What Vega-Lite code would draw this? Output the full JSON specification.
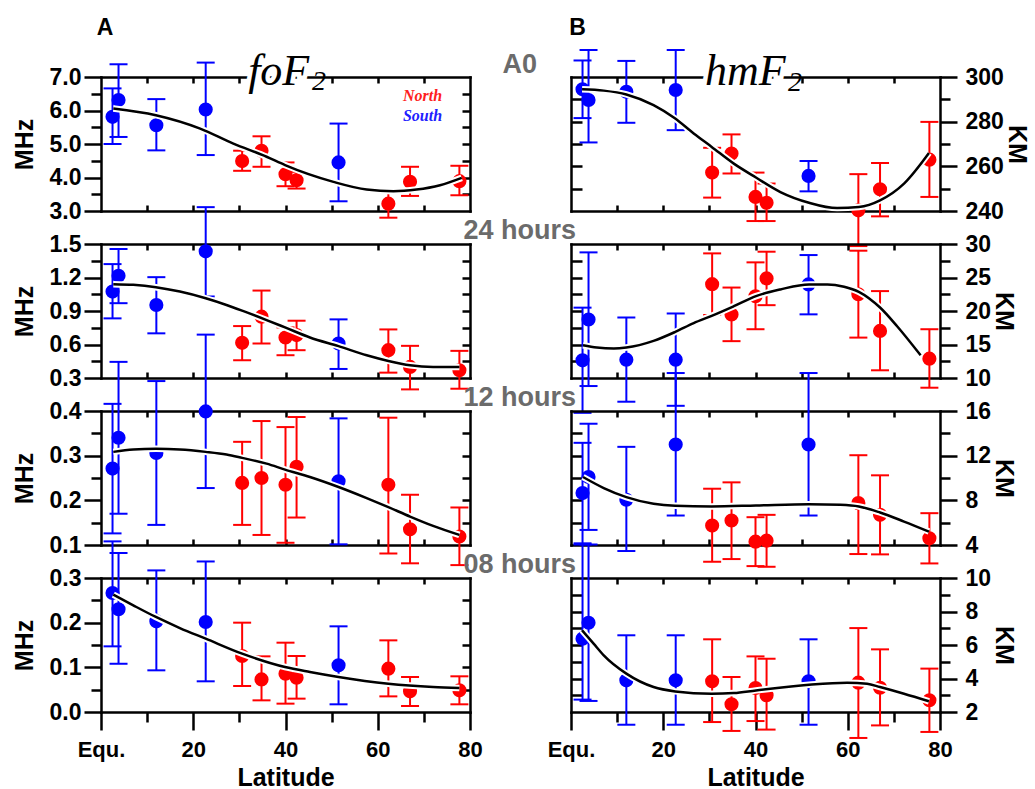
{
"$schema":"https://vega.github.io/schema/vega-lite/v6.json",
"background":"white",
"padding":{"left":12,"top":17,"right":3,"bottom":0},
"datasets":{
"pts":[
{"p":"f0","h":"S","lat":2.5,"v":5.81,"lo":5.0,"hi":6.66},
{"p":"f0","h":"S","lat":3.8,"v":6.31,"lo":5.21,"hi":7.38},
{"p":"f0","h":"S","lat":12.0,"v":5.56,"lo":4.81,"hi":6.34},
{"p":"f0","h":"S","lat":22.7,"v":6.03,"lo":4.67,"hi":7.43},
{"p":"f0","h":"N","lat":30.6,"v":4.49,"lo":4.2,"hi":4.8},
{"p":"f0","h":"N","lat":34.8,"v":4.8,"lo":4.32,"hi":5.23},
{"p":"f0","h":"N","lat":40.0,"v":4.1,"lo":3.74,"hi":4.45},
{"p":"f0","h":"N","lat":42.4,"v":3.92,"lo":3.67,"hi":4.17},
{"p":"f0","h":"S","lat":51.5,"v":4.45,"lo":3.29,"hi":5.61},
{"p":"f0","h":"N","lat":62.3,"v":3.22,"lo":2.8,"hi":3.64},
{"p":"f0","h":"N","lat":67.0,"v":3.87,"lo":3.45,"hi":4.32},
{"p":"f0","h":"N","lat":77.7,"v":3.89,"lo":3.47,"hi":4.35},
{"p":"h0","h":"S","lat":2.5,"v":294.5,"lo":281.6,"hi":307.4},
{"p":"h0","h":"S","lat":3.8,"v":289.7,"lo":270.7,"hi":312.1},
{"p":"h0","h":"S","lat":12.0,"v":293.4,"lo":279.5,"hi":307.2},
{"p":"h0","h":"S","lat":22.7,"v":294.2,"lo":276.2,"hi":312.1},
{"p":"h0","h":"N","lat":30.6,"v":257.2,"lo":246.0,"hi":268.3},
{"p":"h0","h":"N","lat":34.8,"v":265.7,"lo":256.8,"hi":274.3},
{"p":"h0","h":"N","lat":40.0,"v":246.3,"lo":235.5,"hi":257.2},
{"p":"h0","h":"N","lat":42.4,"v":243.7,"lo":235.5,"hi":252.3},
{"p":"h0","h":"S","lat":51.5,"v":255.7,"lo":248.8,"hi":262.4},
{"p":"h0","h":"N","lat":62.3,"v":240.3,"lo":224.3,"hi":256.5},
{"p":"h0","h":"N","lat":67.0,"v":249.7,"lo":237.6,"hi":261.5},
{"p":"h0","h":"N","lat":77.7,"v":263.0,"lo":246.3,"hi":279.9},
{"p":"f24","h":"S","lat":2.5,"v":1.074,"lo":0.834,"hi":1.32},
{"p":"f24","h":"S","lat":3.8,"v":1.215,"lo":0.97,"hi":1.455},
{"p":"f24","h":"S","lat":12.0,"v":0.954,"lo":0.70,"hi":1.203},
{"p":"f24","h":"S","lat":22.7,"v":1.434,"lo":1.03,"hi":1.83},
{"p":"f24","h":"N","lat":30.6,"v":0.615,"lo":0.459,"hi":0.765},
{"p":"f24","h":"N","lat":34.8,"v":0.849,"lo":0.609,"hi":1.083},
{"p":"f24","h":"N","lat":40.0,"v":0.663,"lo":0.504,"hi":0.753},
{"p":"f24","h":"N","lat":42.4,"v":0.684,"lo":0.549,"hi":0.813},
{"p":"f24","h":"S","lat":51.5,"v":0.609,"lo":0.381,"hi":0.825},
{"p":"f24","h":"N","lat":62.3,"v":0.549,"lo":0.348,"hi":0.735},
{"p":"f24","h":"N","lat":67.0,"v":0.399,"lo":0.198,"hi":0.588},
{"p":"f24","h":"N","lat":77.7,"v":0.369,"lo":0.204,"hi":0.543},
{"p":"h24","h":"S","lat":2.5,"v":12.64,"lo":4.8,"hi":20.5},
{"p":"h24","h":"S","lat":3.8,"v":18.73,"lo":8.8,"hi":28.75},
{"p":"h24","h":"S","lat":12.0,"v":12.74,"lo":6.46,"hi":19.03},
{"p":"h24","h":"S","lat":22.7,"v":12.74,"lo":5.85,"hi":19.63},
{"p":"h24","h":"N","lat":30.6,"v":24.01,"lo":19.4,"hi":28.6},
{"p":"h24","h":"N","lat":34.8,"v":19.48,"lo":15.5,"hi":23.5},
{"p":"h24","h":"N","lat":40.0,"v":22.2,"lo":17.28,"hi":27.26},
{"p":"h24","h":"N","lat":42.4,"v":24.86,"lo":20.87,"hi":28.85},
{"p":"h24","h":"S","lat":51.5,"v":23.97,"lo":19.5,"hi":28.35},
{"p":"h24","h":"N","lat":62.3,"v":22.5,"lo":16.03,"hi":29.0},
{"p":"h24","h":"N","lat":67.0,"v":17.03,"lo":11.15,"hi":22.97},
{"p":"h24","h":"N","lat":77.7,"v":12.89,"lo":8.55,"hi":17.28},
{"p":"f12","h":"S","lat":2.5,"v":0.271,"lo":0.126,"hi":0.416},
{"p":"f12","h":"S","lat":3.8,"v":0.34,"lo":0.17,"hi":0.51},
{"p":"f12","h":"S","lat":12.0,"v":0.306,"lo":0.145,"hi":0.467},
{"p":"f12","h":"S","lat":22.7,"v":0.399,"lo":0.2275,"hi":0.571},
{"p":"f12","h":"N","lat":30.6,"v":0.239,"lo":0.145,"hi":0.331},
{"p":"f12","h":"N","lat":34.8,"v":0.25,"lo":0.1225,"hi":0.3775},
{"p":"f12","h":"N","lat":40.0,"v":0.235,"lo":0.105,"hi":0.364},
{"p":"f12","h":"N","lat":42.4,"v":0.275,"lo":0.1615,"hi":0.3865},
{"p":"f12","h":"S","lat":51.5,"v":0.2425,"lo":0.1015,"hi":0.3835},
{"p":"f12","h":"N","lat":62.3,"v":0.235,"lo":0.081,"hi":0.385},
{"p":"f12","h":"N","lat":67.0,"v":0.135,"lo":0.059,"hi":0.2125},
{"p":"f12","h":"N","lat":77.7,"v":0.119,"lo":0.055,"hi":0.184},
{"p":"h12","h":"S","lat":2.5,"v":8.65,"lo":4.15,"hi":13.15},
{"p":"h12","h":"S","lat":3.8,"v":10.09,"lo":5.35,"hi":14.86},
{"p":"h12","h":"S","lat":12.0,"v":8.05,"lo":3.46,"hi":12.79},
{"p":"h12","h":"S","lat":22.7,"v":13.0,"lo":6.64,"hi":19.4},
{"p":"h12","h":"N","lat":30.6,"v":5.74,"lo":2.5,"hi":9.04},
{"p":"h12","h":"N","lat":34.8,"v":6.19,"lo":2.74,"hi":9.61},
{"p":"h12","h":"N","lat":40.0,"v":4.3,"lo":2.11,"hi":6.49},
{"p":"h12","h":"N","lat":42.4,"v":4.39,"lo":2.05,"hi":6.7},
{"p":"h12","h":"S","lat":51.5,"v":13.0,"lo":6.64,"hi":19.4},
{"p":"h12","h":"N","lat":62.3,"v":7.75,"lo":3.19,"hi":12.04},
{"p":"h12","h":"N","lat":67.0,"v":6.7,"lo":3.16,"hi":10.24},
{"p":"h12","h":"N","lat":77.7,"v":4.6,"lo":2.35,"hi":6.85},
{"p":"f8","h":"S","lat":2.5,"v":0.2664,"lo":0.147,"hi":0.382},
{"p":"f8","h":"S","lat":3.8,"v":0.23,"lo":0.108,"hi":0.356},
{"p":"f8","h":"S","lat":12.0,"v":0.203,"lo":0.0933,"hi":0.317},
{"p":"f8","h":"S","lat":22.7,"v":0.2015,"lo":0.0687,"hi":0.337},
{"p":"f8","h":"N","lat":30.6,"v":0.1254,"lo":0.0582,"hi":0.2},
{"p":"f8","h":"N","lat":34.8,"v":0.073,"lo":0.0261,"hi":0.1246},
{"p":"f8","h":"N","lat":40.0,"v":0.0858,"lo":0.0187,"hi":0.1552},
{"p":"f8","h":"N","lat":42.4,"v":0.0769,"lo":0.0299,"hi":0.1254},
{"p":"f8","h":"S","lat":51.5,"v":0.1045,"lo":0.0172,"hi":0.1918},
{"p":"f8","h":"N","lat":62.3,"v":0.097,"lo":0.035,"hi":0.1604},
{"p":"f8","h":"N","lat":67.0,"v":0.0463,"lo":0.0134,"hi":0.0784},
{"p":"f8","h":"N","lat":77.7,"v":0.0485,"lo":0.0172,"hi":0.0799},
{"p":"h8","h":"S","lat":2.5,"v":6.38,"lo":2.74,"hi":12.0},
{"p":"h8","h":"S","lat":3.8,"v":7.33,"lo":2.66,"hi":12.0},
{"p":"h8","h":"S","lat":12.0,"v":3.89,"lo":1.24,"hi":6.58},
{"p":"h8","h":"S","lat":22.7,"v":3.89,"lo":1.24,"hi":6.58},
{"p":"h8","h":"N","lat":30.6,"v":3.83,"lo":1.4,"hi":6.34},
{"p":"h8","h":"N","lat":34.8,"v":2.46,"lo":0.87,"hi":4.09},
{"p":"h8","h":"N","lat":40.0,"v":3.43,"lo":1.46,"hi":5.32},
{"p":"h8","h":"N","lat":42.4,"v":3.0,"lo":0.95,"hi":5.18},
{"p":"h8","h":"S","lat":51.5,"v":3.83,"lo":1.24,"hi":6.34},
{"p":"h8","h":"N","lat":62.3,"v":3.75,"lo":0.45,"hi":7.01},
{"p":"h8","h":"N","lat":67.0,"v":3.45,"lo":1.2,"hi":5.74},
{"p":"h8","h":"N","lat":77.7,"v":2.7,"lo":0.81,"hi":4.59}
],
"fit":[
{"p":"f0","lat":2.67,"v":6.06},{"p":"f0","lat":11.9,"v":5.86},{"p":"f0","lat":21.5,"v":5.46},{"p":"f0","lat":28.7,"v":5.01},{"p":"f0","lat":35.9,"v":4.62},{"p":"f0","lat":39.9,"v":4.37},{"p":"f0","lat":50.4,"v":3.87},{"p":"f0","lat":57.6,"v":3.64},{"p":"f0","lat":63.4,"v":3.59},{"p":"f0","lat":68.4,"v":3.64},{"p":"f0","lat":73.5,"v":3.77},{"p":"f0","lat":78.2,"v":3.99},
{"p":"h0","lat":2.4,"v":294.5},{"p":"h0","lat":7.1,"v":293.9},{"p":"h0","lat":12.0,"v":292.2},{"p":"h0","lat":17.9,"v":287.4},{"p":"h0","lat":22.6,"v":281.4},{"p":"h0","lat":26.6,"v":274.7},{"p":"h0","lat":30.5,"v":268.7},{"p":"h0","lat":35.3,"v":261.2},{"p":"h0","lat":40.1,"v":255.0},{"p":"h0","lat":45.4,"v":248.5},{"p":"h0","lat":51.6,"v":243.7},{"p":"h0","lat":57.7,"v":241.3},{"p":"h0","lat":62.4,"v":241.8},{"p":"h0","lat":67.0,"v":244.8},{"p":"h0","lat":72.2,"v":252.3},{"p":"h0","lat":77.6,"v":266.0},
{"p":"f24","lat":2.67,"v":1.14},{"p":"f24","lat":7.0,"v":1.134},{"p":"f24","lat":11.9,"v":1.113},{"p":"f24","lat":17.1,"v":1.074},{"p":"f24","lat":22.7,"v":1.014},{"p":"f24","lat":27.2,"v":0.954},{"p":"f24","lat":30.6,"v":0.903},{"p":"f24","lat":35.9,"v":0.819},{"p":"f24","lat":39.9,"v":0.753},{"p":"f24","lat":45.3,"v":0.663},{"p":"f24","lat":51.5,"v":0.585},{"p":"f24","lat":57.6,"v":0.504},{"p":"f24","lat":62.3,"v":0.453},{"p":"f24","lat":67.0,"v":0.414},{"p":"f24","lat":72.0,"v":0.399},{"p":"f24","lat":77.7,"v":0.399},
{"p":"h24","lat":2.6,"v":14.89},{"p":"h24","lat":5.6,"v":14.54},{"p":"h24","lat":9.3,"v":14.39},{"p":"h24","lat":12.0,"v":14.54},{"p":"h24","lat":17.9,"v":15.54},{"p":"h24","lat":22.6,"v":16.88},{"p":"h24","lat":26.6,"v":18.2},{"p":"h24","lat":30.5,"v":19.28},{"p":"h24","lat":35.3,"v":20.72},{"p":"h24","lat":40.1,"v":22.22},{"p":"h24","lat":45.4,"v":23.22},{"p":"h24","lat":51.6,"v":23.97},{"p":"h24","lat":55.6,"v":23.97},{"p":"h24","lat":59.2,"v":23.62},{"p":"h24","lat":62.4,"v":22.87},{"p":"h24","lat":67.0,"v":20.52},{"p":"h24","lat":70.7,"v":17.73},{"p":"h24","lat":75.8,"v":13.39},
{"p":"f12","lat":2.67,"v":0.3085},{"p":"f12","lat":7.0,"v":0.3138},{"p":"f12","lat":11.9,"v":0.3153},{"p":"f12","lat":17.1,"v":0.3138},{"p":"f12","lat":22.7,"v":0.3085},{"p":"f12","lat":27.2,"v":0.3025},{"p":"f12","lat":30.6,"v":0.295},{"p":"f12","lat":35.9,"v":0.2822},{"p":"f12","lat":39.9,"v":0.2688},{"p":"f12","lat":45.3,"v":0.2522},{"p":"f12","lat":51.5,"v":0.2298},{"p":"f12","lat":57.6,"v":0.205},{"p":"f12","lat":62.3,"v":0.1848},{"p":"f12","lat":67.0,"v":0.1637},{"p":"f12","lat":72.0,"v":0.1428},{"p":"f12","lat":77.7,"v":0.1225},
{"p":"h12","lat":2.6,"v":10.09},{"p":"h12","lat":7.1,"v":9.1},{"p":"h12","lat":12.0,"v":8.29},{"p":"h12","lat":17.9,"v":7.69},{"p":"h12","lat":22.6,"v":7.51},{"p":"h12","lat":30.5,"v":7.45},{"p":"h12","lat":40.1,"v":7.54},{"p":"h12","lat":51.6,"v":7.66},{"p":"h12","lat":58.4,"v":7.6},{"p":"h12","lat":62.4,"v":7.45},{"p":"h12","lat":67.0,"v":6.91},{"p":"h12","lat":72.2,"v":6.1},{"p":"h12","lat":77.6,"v":5.2},
{"p":"f8","lat":2.67,"v":0.2627},{"p":"f8","lat":7.0,"v":0.2388},{"p":"f8","lat":11.9,"v":0.2127},{"p":"f8","lat":17.1,"v":0.188},{"p":"f8","lat":22.7,"v":0.1642},{"p":"f8","lat":30.6,"v":0.1306},{"p":"f8","lat":39.9,"v":0.1007},{"p":"f8","lat":45.3,"v":0.0896},{"p":"f8","lat":51.5,"v":0.0784},{"p":"f8","lat":62.3,"v":0.0634},{"p":"f8","lat":72.0,"v":0.056},{"p":"f8","lat":77.7,"v":0.0537},
{"p":"h8","lat":2.4,"v":6.88},{"p":"h8","lat":4.9,"v":6.08},{"p":"h8","lat":7.1,"v":5.38},{"p":"h8","lat":12.0,"v":4.29},{"p":"h8","lat":17.9,"v":3.49},{"p":"h8","lat":22.6,"v":3.23},{"p":"h8","lat":30.5,"v":3.09},{"p":"h8","lat":35.3,"v":3.13},{"p":"h8","lat":40.1,"v":3.29},{"p":"h8","lat":51.6,"v":3.63},{"p":"h8","lat":59.9,"v":3.75},{"p":"h8","lat":64.2,"v":3.69},{"p":"h8","lat":67.0,"v":3.49},{"p":"h8","lat":72.2,"v":3.09},{"p":"h8","lat":77.6,"v":2.64}
]
},
"columns":2,
"spacing":{"row":33,"column":101},
"bounds":"flush",
"concat":[
{"width":369,"height":134,"resolve":{"axis":{"x":"independent","y":"independent"}},"layer":[
{"data":{"name":"pts"},"transform":[{"filter":"datum.p=='f0'"}],"mark":{"type":"rule","strokeWidth":2},"encoding":{"x":{"field":"lat","type":"quantitative","scale":{"domain":[0,80],"nice":false,"zero":false},"axis":{"orient":"bottom","values":[10,20,30,40,50,60,70],"tickSize":-6,"labels":false,"title":null}},"y":{"field":"lo","type":"quantitative","scale":{"domain":[3,7],"nice":false,"zero":false},"axis":{"orient":"left","values":[3,4,5,6,7],"tickSize":17,"labelPadding":3,"format":".1f","title":"MHz","titlePadding":12}},"y2":{"field":"hi"},"color":{"field":"h","type":"nominal","scale":{"domain":["N","S"],"range":["#ff0000","#0000ff"]},"legend":null}}},
{"data":{"name":"pts"},"transform":[{"filter":"datum.p=='f0'"}],"mark":{"type":"tick","orient":"horizontal","size":18,"thickness":2,"opacity":1},"encoding":{"x":{"field":"lat","type":"quantitative","scale":{"domain":[0,80],"nice":false,"zero":false},"axis":{"orient":"top","values":[10,20,30,40,50,60,70],"tickSize":-6,"labels":false,"title":null}},"y":{"field":"lo","type":"quantitative","scale":{"domain":[3,7],"nice":false,"zero":false},"axis":{"orient":"left","values":[3.5,4.5,5.5,6.5],"tickSize":10,"labels":false,"domain":false,"title":null}},"color":{"field":"h","type":"nominal","scale":{"domain":["N","S"],"range":["#ff0000","#0000ff"]},"legend":null}}},
{"data":{"name":"pts"},"transform":[{"filter":"datum.p=='f0'"}],"mark":{"type":"tick","orient":"horizontal","size":18,"thickness":2,"opacity":1},"encoding":{"x":{"field":"lat","type":"quantitative","scale":{"domain":[0,80],"nice":false,"zero":false},"axis":null},"y":{"field":"hi","type":"quantitative","scale":{"domain":[3,7],"nice":false,"zero":false},"axis":{"orient":"right","values":[3.5,4,4.5,5,5.5,6,6.5],"tickSize":-8,"labels":false,"title":null}},"color":{"field":"h","type":"nominal","scale":{"domain":["N","S"],"range":["#ff0000","#0000ff"]},"legend":null}}},
{"data":{"name":"pts"},"transform":[{"filter":"datum.p=='f0'"}],"mark":{"type":"circle","size":200,"opacity":1},"encoding":{"x":{"field":"lat","type":"quantitative","scale":{"domain":[0,80],"nice":false,"zero":false},"axis":null},"y":{"field":"v","type":"quantitative","scale":{"domain":[3,7],"nice":false,"zero":false},"axis":null},"color":{"field":"h","type":"nominal","scale":{"domain":["N","S"],"range":["#ff0000","#0000ff"]},"legend":null}}},
{"data":{"name":"fit"},"transform":[{"filter":"datum.p=='f0'"}],"mark":{"type":"line","color":"white","strokeWidth":6.5,"interpolate":"monotone"},"encoding":{"x":{"field":"lat","type":"quantitative","scale":{"domain":[0,80],"nice":false,"zero":false},"axis":null},"y":{"field":"v","type":"quantitative","scale":{"domain":[3,7],"nice":false,"zero":false},"axis":null}}},
{"data":{"name":"fit"},"transform":[{"filter":"datum.p=='f0'"}],"mark":{"type":"line","color":"black","strokeWidth":2.5,"interpolate":"monotone"},"encoding":{"x":{"field":"lat","type":"quantitative","scale":{"domain":[0,80],"nice":false,"zero":false},"axis":null},"y":{"field":"v","type":"quantitative","scale":{"domain":[3,7],"nice":false,"zero":false},"axis":null}}},
{"data":{"values":[{}]},"mark":{"type":"text","text":"A","font":"Liberation Sans","fontWeight":"bold","fontSize":23,"align":"center","baseline":"alphabetic","color":"black"},"encoding":{"x":{"datum":0.9,"type":"quantitative","scale":{"domain":[0,80],"nice":false,"zero":false},"axis":null},"y":{"datum":8.25,"type":"quantitative","scale":{"domain":[3,7],"nice":false,"zero":false},"axis":null}}},
{"data":{"values":[{}]},"mark":{"type":"text","text":"foF","font":"Liberation Serif","fontStyle":"italic","fontSize":44,"align":"left","baseline":"alphabetic","fill":"white","stroke":"white","strokeWidth":9},"encoding":{"x":{"datum":31.9,"type":"quantitative","scale":{"domain":[0,80],"nice":false,"zero":false},"axis":null},"y":{"datum":6.75,"type":"quantitative","scale":{"domain":[3,7],"nice":false,"zero":false},"axis":null}}},
{"data":{"values":[{}]},"mark":{"type":"text","text":"foF","font":"Liberation Serif","fontStyle":"italic","fontSize":44,"align":"left","baseline":"alphabetic","color":"black"},"encoding":{"x":{"datum":31.9,"type":"quantitative","scale":{"domain":[0,80],"nice":false,"zero":false},"axis":null},"y":{"datum":6.75,"type":"quantitative","scale":{"domain":[3,7],"nice":false,"zero":false},"axis":null}}},
{"data":{"values":[{}]},"mark":{"type":"text","text":"2","font":"Liberation Serif","fontStyle":"italic","fontSize":28,"align":"left","baseline":"alphabetic","color":"black"},"encoding":{"x":{"datum":45.75,"type":"quantitative","scale":{"domain":[0,80],"nice":false,"zero":false},"axis":null},"y":{"datum":6.61,"type":"quantitative","scale":{"domain":[3,7],"nice":false,"zero":false},"axis":null}}},
{"data":{"values":[{}]},"mark":{"type":"text","text":"North","font":"Liberation Serif","fontStyle":"italic","fontWeight":"bold","fontSize":16,"align":"center","baseline":"alphabetic","color":"#ff2020"},"encoding":{"x":{"datum":69.7,"type":"quantitative","scale":{"domain":[0,80],"nice":false,"zero":false},"axis":null},"y":{"datum":6.29,"type":"quantitative","scale":{"domain":[3,7],"nice":false,"zero":false},"axis":null}}},
{"data":{"values":[{}]},"mark":{"type":"text","text":"South","font":"Liberation Serif","fontStyle":"italic","fontWeight":"bold","fontSize":16,"align":"center","baseline":"alphabetic","color":"#2020ff"},"encoding":{"x":{"datum":69.7,"type":"quantitative","scale":{"domain":[0,80],"nice":false,"zero":false},"axis":null},"y":{"datum":5.70,"type":"quantitative","scale":{"domain":[3,7],"nice":false,"zero":false},"axis":null}}},
{"data":{"values":[{}]},"mark":{"type":"text","text":"A0","font":"Liberation Sans","fontWeight":"bold","fontSize":27,"align":"center","baseline":"alphabetic","color":"#6b6b6b"},"encoding":{"x":{"datum":90.8,"type":"quantitative","scale":{"domain":[0,80],"nice":false,"zero":false},"axis":null},"y":{"datum":7.128,"type":"quantitative","scale":{"domain":[3,7],"nice":false,"zero":false},"axis":null}}}
]},
{"width":369,"height":134,"resolve":{"axis":{"x":"independent","y":"independent"}},"layer":[
{"data":{"name":"pts"},"transform":[{"filter":"datum.p=='h0'"}],"mark":{"type":"rule","strokeWidth":2},"encoding":{"x":{"field":"lat","type":"quantitative","scale":{"domain":[0,80],"nice":false,"zero":false},"axis":{"orient":"bottom","values":[10,20,30,40,50,60,70],"tickSize":-6,"labels":false,"title":null}},"y":{"field":"lo","type":"quantitative","scale":{"domain":[240,300],"nice":false,"zero":false},"axis":{"orient":"right","values":[240,260,280,300],"tickSize":17,"labelPadding":8,"format":"d","title":"KM","titlePadding":0}},"y2":{"field":"hi"},"color":{"field":"h","type":"nominal","scale":{"domain":["N","S"],"range":["#ff0000","#0000ff"]},"legend":null}}},
{"data":{"name":"pts"},"transform":[{"filter":"datum.p=='h0'"}],"mark":{"type":"tick","orient":"horizontal","size":18,"thickness":2,"opacity":1},"encoding":{"x":{"field":"lat","type":"quantitative","scale":{"domain":[0,80],"nice":false,"zero":false},"axis":{"orient":"top","values":[10,20,30,40,50,60,70],"tickSize":-6,"labels":false,"title":null}},"y":{"field":"lo","type":"quantitative","scale":{"domain":[240,300],"nice":false,"zero":false},"axis":{"orient":"right","values":[250,270,290],"tickSize":10,"labels":false,"domain":false,"title":null}},"color":{"field":"h","type":"nominal","scale":{"domain":["N","S"],"range":["#ff0000","#0000ff"]},"legend":null}}},
{"data":{"name":"pts"},"transform":[{"filter":"datum.p=='h0'"}],"mark":{"type":"tick","orient":"horizontal","size":18,"thickness":2,"opacity":1},"encoding":{"x":{"field":"lat","type":"quantitative","scale":{"domain":[0,80],"nice":false,"zero":false},"axis":null},"y":{"field":"hi","type":"quantitative","scale":{"domain":[240,300],"nice":false,"zero":false},"axis":{"orient":"left","values":[250,260,270,280,290],"tickSize":-11,"labels":false,"title":null}},"color":{"field":"h","type":"nominal","scale":{"domain":["N","S"],"range":["#ff0000","#0000ff"]},"legend":null}}},
{"data":{"name":"pts"},"transform":[{"filter":"datum.p=='h0'"}],"mark":{"type":"circle","size":200,"opacity":1},"encoding":{"x":{"field":"lat","type":"quantitative","scale":{"domain":[0,80],"nice":false,"zero":false},"axis":null},"y":{"field":"v","type":"quantitative","scale":{"domain":[240,300],"nice":false,"zero":false},"axis":null},"color":{"field":"h","type":"nominal","scale":{"domain":["N","S"],"range":["#ff0000","#0000ff"]},"legend":null}}},
{"data":{"name":"fit"},"transform":[{"filter":"datum.p=='h0'"}],"mark":{"type":"line","color":"white","strokeWidth":6.5,"interpolate":"monotone"},"encoding":{"x":{"field":"lat","type":"quantitative","scale":{"domain":[0,80],"nice":false,"zero":false},"axis":null},"y":{"field":"v","type":"quantitative","scale":{"domain":[240,300],"nice":false,"zero":false},"axis":null}}},
{"data":{"name":"fit"},"transform":[{"filter":"datum.p=='h0'"}],"mark":{"type":"line","color":"black","strokeWidth":2.5,"interpolate":"monotone"},"encoding":{"x":{"field":"lat","type":"quantitative","scale":{"domain":[0,80],"nice":false,"zero":false},"axis":null},"y":{"field":"v","type":"quantitative","scale":{"domain":[240,300],"nice":false,"zero":false},"axis":null}}},
{"data":{"values":[{}]},"mark":{"type":"text","text":"B","font":"Liberation Sans","fontWeight":"bold","fontSize":23,"align":"center","baseline":"alphabetic","color":"black"},"encoding":{"x":{"datum":1.41,"type":"quantitative","scale":{"domain":[0,80],"nice":false,"zero":false},"axis":null},"y":{"datum":318.8,"type":"quantitative","scale":{"domain":[240,300],"nice":false,"zero":false},"axis":null}}},
{"data":{"values":[{}]},"mark":{"type":"text","text":"hmF","font":"Liberation Serif","fontStyle":"italic","fontSize":44,"align":"left","baseline":"alphabetic","fill":"white","stroke":"white","strokeWidth":9},"encoding":{"x":{"datum":29.05,"type":"quantitative","scale":{"domain":[0,80],"nice":false,"zero":false},"axis":null},"y":{"datum":296.4,"type":"quantitative","scale":{"domain":[240,300],"nice":false,"zero":false},"axis":null}}},
{"data":{"values":[{}]},"mark":{"type":"text","text":"hmF","font":"Liberation Serif","fontStyle":"italic","fontSize":44,"align":"left","baseline":"alphabetic","color":"black"},"encoding":{"x":{"datum":29.05,"type":"quantitative","scale":{"domain":[0,80],"nice":false,"zero":false},"axis":null},"y":{"datum":296.4,"type":"quantitative","scale":{"domain":[240,300],"nice":false,"zero":false},"axis":null}}},
{"data":{"values":[{}]},"mark":{"type":"text","text":"2","font":"Liberation Serif","fontStyle":"italic","fontSize":28,"align":"left","baseline":"alphabetic","color":"black"},"encoding":{"x":{"datum":47.05,"type":"quantitative","scale":{"domain":[0,80],"nice":false,"zero":false},"axis":null},"y":{"datum":293.9,"type":"quantitative","scale":{"domain":[240,300],"nice":false,"zero":false},"axis":null}}}
]},
{"width":369,"height":134,"resolve":{"axis":{"x":"independent","y":"independent"}},"layer":[
{"data":{"name":"pts"},"transform":[{"filter":"datum.p=='f24'"}],"mark":{"type":"rule","strokeWidth":2},"encoding":{"x":{"field":"lat","type":"quantitative","scale":{"domain":[0,80],"nice":false,"zero":false},"axis":{"orient":"bottom","values":[10,20,30,40,50,60,70],"tickSize":-6,"labels":false,"title":null}},"y":{"field":"lo","type":"quantitative","scale":{"domain":[0.3,1.5],"nice":false,"zero":false},"axis":{"orient":"left","values":[0.3,0.6,0.9,1.2,1.5],"tickSize":17,"labelPadding":3,"format":".1f","title":"MHz","titlePadding":12}},"y2":{"field":"hi"},"color":{"field":"h","type":"nominal","scale":{"domain":["N","S"],"range":["#ff0000","#0000ff"]},"legend":null}}},
{"data":{"name":"pts"},"transform":[{"filter":"datum.p=='f24'"}],"mark":{"type":"tick","orient":"horizontal","size":18,"thickness":2,"opacity":1},"encoding":{"x":{"field":"lat","type":"quantitative","scale":{"domain":[0,80],"nice":false,"zero":false},"axis":{"orient":"top","values":[10,20,30,40,50,60,70],"tickSize":-6,"labels":false,"title":null}},"y":{"field":"lo","type":"quantitative","scale":{"domain":[0.3,1.5],"nice":false,"zero":false},"axis":{"orient":"left","values":[0.45,0.75,1.05,1.35],"tickSize":10,"labels":false,"domain":false,"title":null}},"color":{"field":"h","type":"nominal","scale":{"domain":["N","S"],"range":["#ff0000","#0000ff"]},"legend":null}}},
{"data":{"name":"pts"},"transform":[{"filter":"datum.p=='f24'"}],"mark":{"type":"tick","orient":"horizontal","size":18,"thickness":2,"opacity":1},"encoding":{"x":{"field":"lat","type":"quantitative","scale":{"domain":[0,80],"nice":false,"zero":false},"axis":null},"y":{"field":"hi","type":"quantitative","scale":{"domain":[0.3,1.5],"nice":false,"zero":false},"axis":{"orient":"right","values":[0.45,0.6,0.75,0.9,1.05,1.2,1.35],"tickSize":-8,"labels":false,"title":null}},"color":{"field":"h","type":"nominal","scale":{"domain":["N","S"],"range":["#ff0000","#0000ff"]},"legend":null}}},
{"data":{"name":"pts"},"transform":[{"filter":"datum.p=='f24'"}],"mark":{"type":"circle","size":200,"opacity":1},"encoding":{"x":{"field":"lat","type":"quantitative","scale":{"domain":[0,80],"nice":false,"zero":false},"axis":null},"y":{"field":"v","type":"quantitative","scale":{"domain":[0.3,1.5],"nice":false,"zero":false},"axis":null},"color":{"field":"h","type":"nominal","scale":{"domain":["N","S"],"range":["#ff0000","#0000ff"]},"legend":null}}},
{"data":{"name":"fit"},"transform":[{"filter":"datum.p=='f24'"}],"mark":{"type":"line","color":"white","strokeWidth":6.5,"interpolate":"monotone"},"encoding":{"x":{"field":"lat","type":"quantitative","scale":{"domain":[0,80],"nice":false,"zero":false},"axis":null},"y":{"field":"v","type":"quantitative","scale":{"domain":[0.3,1.5],"nice":false,"zero":false},"axis":null}}},
{"data":{"name":"fit"},"transform":[{"filter":"datum.p=='f24'"}],"mark":{"type":"line","color":"black","strokeWidth":2.5,"interpolate":"monotone"},"encoding":{"x":{"field":"lat","type":"quantitative","scale":{"domain":[0,80],"nice":false,"zero":false},"axis":null},"y":{"field":"v","type":"quantitative","scale":{"domain":[0.3,1.5],"nice":false,"zero":false},"axis":null}}},
{"data":{"values":[{}]},"mark":{"type":"text","text":"24 hours","font":"Liberation Sans","fontWeight":"bold","fontSize":27,"align":"center","baseline":"alphabetic","color":"#6b6b6b"},"encoding":{"x":{"datum":90.8,"type":"quantitative","scale":{"domain":[0,80],"nice":false,"zero":false},"axis":null},"y":{"datum":1.542,"type":"quantitative","scale":{"domain":[0.3,1.5],"nice":false,"zero":false},"axis":null}}}
]},
{"width":369,"height":134,"resolve":{"axis":{"x":"independent","y":"independent"}},"layer":[
{"data":{"name":"pts"},"transform":[{"filter":"datum.p=='h24'"}],"mark":{"type":"rule","strokeWidth":2},"encoding":{"x":{"field":"lat","type":"quantitative","scale":{"domain":[0,80],"nice":false,"zero":false},"axis":{"orient":"bottom","values":[10,20,30,40,50,60,70],"tickSize":-6,"labels":false,"title":null}},"y":{"field":"lo","type":"quantitative","scale":{"domain":[10,30],"nice":false,"zero":false},"axis":{"orient":"right","values":[10,15,20,25,30],"tickSize":17,"labelPadding":8,"format":"d","title":"KM","titlePadding":0}},"y2":{"field":"hi"},"color":{"field":"h","type":"nominal","scale":{"domain":["N","S"],"range":["#ff0000","#0000ff"]},"legend":null}}},
{"data":{"name":"pts"},"transform":[{"filter":"datum.p=='h24'"}],"mark":{"type":"tick","orient":"horizontal","size":18,"thickness":2,"opacity":1},"encoding":{"x":{"field":"lat","type":"quantitative","scale":{"domain":[0,80],"nice":false,"zero":false},"axis":{"orient":"top","values":[10,20,30,40,50,60,70],"tickSize":-6,"labels":false,"title":null}},"y":{"field":"lo","type":"quantitative","scale":{"domain":[10,30],"nice":false,"zero":false},"axis":{"orient":"right","values":[12.5,17.5,22.5,27.5],"tickSize":10,"labels":false,"domain":false,"title":null}},"color":{"field":"h","type":"nominal","scale":{"domain":["N","S"],"range":["#ff0000","#0000ff"]},"legend":null}}},
{"data":{"name":"pts"},"transform":[{"filter":"datum.p=='h24'"}],"mark":{"type":"tick","orient":"horizontal","size":18,"thickness":2,"opacity":1},"encoding":{"x":{"field":"lat","type":"quantitative","scale":{"domain":[0,80],"nice":false,"zero":false},"axis":null},"y":{"field":"hi","type":"quantitative","scale":{"domain":[10,30],"nice":false,"zero":false},"axis":{"orient":"left","values":[12.5,15,17.5,20,22.5,25,27.5],"tickSize":-11,"labels":false,"title":null}},"color":{"field":"h","type":"nominal","scale":{"domain":["N","S"],"range":["#ff0000","#0000ff"]},"legend":null}}},
{"data":{"name":"pts"},"transform":[{"filter":"datum.p=='h24'"}],"mark":{"type":"circle","size":200,"opacity":1},"encoding":{"x":{"field":"lat","type":"quantitative","scale":{"domain":[0,80],"nice":false,"zero":false},"axis":null},"y":{"field":"v","type":"quantitative","scale":{"domain":[10,30],"nice":false,"zero":false},"axis":null},"color":{"field":"h","type":"nominal","scale":{"domain":["N","S"],"range":["#ff0000","#0000ff"]},"legend":null}}},
{"data":{"name":"fit"},"transform":[{"filter":"datum.p=='h24'"}],"mark":{"type":"line","color":"white","strokeWidth":6.5,"interpolate":"monotone"},"encoding":{"x":{"field":"lat","type":"quantitative","scale":{"domain":[0,80],"nice":false,"zero":false},"axis":null},"y":{"field":"v","type":"quantitative","scale":{"domain":[10,30],"nice":false,"zero":false},"axis":null}}},
{"data":{"name":"fit"},"transform":[{"filter":"datum.p=='h24'"}],"mark":{"type":"line","color":"black","strokeWidth":2.5,"interpolate":"monotone"},"encoding":{"x":{"field":"lat","type":"quantitative","scale":{"domain":[0,80],"nice":false,"zero":false},"axis":null},"y":{"field":"v","type":"quantitative","scale":{"domain":[10,30],"nice":false,"zero":false},"axis":null}}}
]},
{"width":369,"height":134,"resolve":{"axis":{"x":"independent","y":"independent"}},"layer":[
{"data":{"name":"pts"},"transform":[{"filter":"datum.p=='f12'"}],"mark":{"type":"rule","strokeWidth":2},"encoding":{"x":{"field":"lat","type":"quantitative","scale":{"domain":[0,80],"nice":false,"zero":false},"axis":{"orient":"bottom","values":[10,20,30,40,50,60,70],"tickSize":-6,"labels":false,"title":null}},"y":{"field":"lo","type":"quantitative","scale":{"domain":[0.1,0.4],"nice":false,"zero":false},"axis":{"orient":"left","values":[0.1,0.2,0.3,0.4],"tickSize":17,"labelPadding":3,"format":".1f","title":"MHz","titlePadding":12}},"y2":{"field":"hi"},"color":{"field":"h","type":"nominal","scale":{"domain":["N","S"],"range":["#ff0000","#0000ff"]},"legend":null}}},
{"data":{"name":"pts"},"transform":[{"filter":"datum.p=='f12'"}],"mark":{"type":"tick","orient":"horizontal","size":18,"thickness":2,"opacity":1},"encoding":{"x":{"field":"lat","type":"quantitative","scale":{"domain":[0,80],"nice":false,"zero":false},"axis":{"orient":"top","values":[10,20,30,40,50,60,70],"tickSize":-6,"labels":false,"title":null}},"y":{"field":"lo","type":"quantitative","scale":{"domain":[0.1,0.4],"nice":false,"zero":false},"axis":{"orient":"left","values":[0.15,0.25,0.35],"tickSize":10,"labels":false,"domain":false,"title":null}},"color":{"field":"h","type":"nominal","scale":{"domain":["N","S"],"range":["#ff0000","#0000ff"]},"legend":null}}},
{"data":{"name":"pts"},"transform":[{"filter":"datum.p=='f12'"}],"mark":{"type":"tick","orient":"horizontal","size":18,"thickness":2,"opacity":1},"encoding":{"x":{"field":"lat","type":"quantitative","scale":{"domain":[0,80],"nice":false,"zero":false},"axis":null},"y":{"field":"hi","type":"quantitative","scale":{"domain":[0.1,0.4],"nice":false,"zero":false},"axis":{"orient":"right","values":[0.15,0.2,0.25,0.3,0.35],"tickSize":-8,"labels":false,"title":null}},"color":{"field":"h","type":"nominal","scale":{"domain":["N","S"],"range":["#ff0000","#0000ff"]},"legend":null}}},
{"data":{"name":"pts"},"transform":[{"filter":"datum.p=='f12'"}],"mark":{"type":"circle","size":200,"opacity":1},"encoding":{"x":{"field":"lat","type":"quantitative","scale":{"domain":[0,80],"nice":false,"zero":false},"axis":null},"y":{"field":"v","type":"quantitative","scale":{"domain":[0.1,0.4],"nice":false,"zero":false},"axis":null},"color":{"field":"h","type":"nominal","scale":{"domain":["N","S"],"range":["#ff0000","#0000ff"]},"legend":null}}},
{"data":{"name":"fit"},"transform":[{"filter":"datum.p=='f12'"}],"mark":{"type":"line","color":"white","strokeWidth":6.5,"interpolate":"monotone"},"encoding":{"x":{"field":"lat","type":"quantitative","scale":{"domain":[0,80],"nice":false,"zero":false},"axis":null},"y":{"field":"v","type":"quantitative","scale":{"domain":[0.1,0.4],"nice":false,"zero":false},"axis":null}}},
{"data":{"name":"fit"},"transform":[{"filter":"datum.p=='f12'"}],"mark":{"type":"line","color":"black","strokeWidth":2.5,"interpolate":"monotone"},"encoding":{"x":{"field":"lat","type":"quantitative","scale":{"domain":[0,80],"nice":false,"zero":false},"axis":null},"y":{"field":"v","type":"quantitative","scale":{"domain":[0.1,0.4],"nice":false,"zero":false},"axis":null}}},
{"data":{"values":[{}]},"mark":{"type":"text","text":"12 hours","font":"Liberation Sans","fontWeight":"bold","fontSize":27,"align":"center","baseline":"alphabetic","color":"#6b6b6b"},"encoding":{"x":{"datum":90.8,"type":"quantitative","scale":{"domain":[0,80],"nice":false,"zero":false},"axis":null},"y":{"datum":0.4106,"type":"quantitative","scale":{"domain":[0.1,0.4],"nice":false,"zero":false},"axis":null}}}
]},
{"width":369,"height":134,"resolve":{"axis":{"x":"independent","y":"independent"}},"layer":[
{"data":{"name":"pts"},"transform":[{"filter":"datum.p=='h12'"}],"mark":{"type":"rule","strokeWidth":2},"encoding":{"x":{"field":"lat","type":"quantitative","scale":{"domain":[0,80],"nice":false,"zero":false},"axis":{"orient":"bottom","values":[10,20,30,40,50,60,70],"tickSize":-6,"labels":false,"title":null}},"y":{"field":"lo","type":"quantitative","scale":{"domain":[4,16],"nice":false,"zero":false},"axis":{"orient":"right","values":[4,8,12,16],"tickSize":17,"labelPadding":8,"format":"d","title":"KM","titlePadding":0}},"y2":{"field":"hi"},"color":{"field":"h","type":"nominal","scale":{"domain":["N","S"],"range":["#ff0000","#0000ff"]},"legend":null}}},
{"data":{"name":"pts"},"transform":[{"filter":"datum.p=='h12'"}],"mark":{"type":"tick","orient":"horizontal","size":18,"thickness":2,"opacity":1},"encoding":{"x":{"field":"lat","type":"quantitative","scale":{"domain":[0,80],"nice":false,"zero":false},"axis":{"orient":"top","values":[10,20,30,40,50,60,70],"tickSize":-6,"labels":false,"title":null}},"y":{"field":"lo","type":"quantitative","scale":{"domain":[4,16],"nice":false,"zero":false},"axis":{"orient":"right","values":[6,10,14],"tickSize":10,"labels":false,"domain":false,"title":null}},"color":{"field":"h","type":"nominal","scale":{"domain":["N","S"],"range":["#ff0000","#0000ff"]},"legend":null}}},
{"data":{"name":"pts"},"transform":[{"filter":"datum.p=='h12'"}],"mark":{"type":"tick","orient":"horizontal","size":18,"thickness":2,"opacity":1},"encoding":{"x":{"field":"lat","type":"quantitative","scale":{"domain":[0,80],"nice":false,"zero":false},"axis":null},"y":{"field":"hi","type":"quantitative","scale":{"domain":[4,16],"nice":false,"zero":false},"axis":{"orient":"left","values":[6,8,10,12,14],"tickSize":-11,"labels":false,"title":null}},"color":{"field":"h","type":"nominal","scale":{"domain":["N","S"],"range":["#ff0000","#0000ff"]},"legend":null}}},
{"data":{"name":"pts"},"transform":[{"filter":"datum.p=='h12'"}],"mark":{"type":"circle","size":200,"opacity":1},"encoding":{"x":{"field":"lat","type":"quantitative","scale":{"domain":[0,80],"nice":false,"zero":false},"axis":null},"y":{"field":"v","type":"quantitative","scale":{"domain":[4,16],"nice":false,"zero":false},"axis":null},"color":{"field":"h","type":"nominal","scale":{"domain":["N","S"],"range":["#ff0000","#0000ff"]},"legend":null}}},
{"data":{"name":"fit"},"transform":[{"filter":"datum.p=='h12'"}],"mark":{"type":"line","color":"white","strokeWidth":6.5,"interpolate":"monotone"},"encoding":{"x":{"field":"lat","type":"quantitative","scale":{"domain":[0,80],"nice":false,"zero":false},"axis":null},"y":{"field":"v","type":"quantitative","scale":{"domain":[4,16],"nice":false,"zero":false},"axis":null}}},
{"data":{"name":"fit"},"transform":[{"filter":"datum.p=='h12'"}],"mark":{"type":"line","color":"black","strokeWidth":2.5,"interpolate":"monotone"},"encoding":{"x":{"field":"lat","type":"quantitative","scale":{"domain":[0,80],"nice":false,"zero":false},"axis":null},"y":{"field":"v","type":"quantitative","scale":{"domain":[4,16],"nice":false,"zero":false},"axis":null}}}
]},
{"width":369,"height":134,"resolve":{"axis":{"x":"independent","y":"independent"}},"layer":[
{"data":{"name":"pts"},"transform":[{"filter":"datum.p=='f8'"}],"mark":{"type":"rule","strokeWidth":2},"encoding":{"x":{"field":"lat","type":"quantitative","scale":{"domain":[0,80],"nice":false,"zero":false},"axis":{"orient":"bottom","values":[0,20,40,60,80],"tickSize":18,"labelPadding":9,"labelFlush":false,"format":"d","labelExpr":"datum.value==0?'Equ.':datum.label","title":"Latitude","titlePadding":5}},"y":{"field":"lo","type":"quantitative","scale":{"domain":[0,0.3],"nice":false,"zero":false},"axis":{"orient":"left","values":[0,0.1,0.2,0.3],"tickSize":17,"labelPadding":3,"format":".1f","title":"MHz","titlePadding":12}},"y2":{"field":"hi"},"color":{"field":"h","type":"nominal","scale":{"domain":["N","S"],"range":["#ff0000","#0000ff"]},"legend":null}}},
{"data":{"name":"pts"},"transform":[{"filter":"datum.p=='f8'"}],"mark":{"type":"tick","orient":"horizontal","size":18,"thickness":2,"opacity":1},"encoding":{"x":{"field":"lat","type":"quantitative","scale":{"domain":[0,80],"nice":false,"zero":false},"axis":{"orient":"bottom","values":[10,30,50,70],"tickSize":10,"labels":false,"domain":false,"title":null}},"y":{"field":"lo","type":"quantitative","scale":{"domain":[0,0.3],"nice":false,"zero":false},"axis":{"orient":"left","values":[0.05,0.15,0.25],"tickSize":10,"labels":false,"domain":false,"title":null}},"color":{"field":"h","type":"nominal","scale":{"domain":["N","S"],"range":["#ff0000","#0000ff"]},"legend":null}}},
{"data":{"name":"pts"},"transform":[{"filter":"datum.p=='f8'"}],"mark":{"type":"tick","orient":"horizontal","size":18,"thickness":2,"opacity":1},"encoding":{"x":{"field":"lat","type":"quantitative","scale":{"domain":[0,80],"nice":false,"zero":false},"axis":{"orient":"top","values":[10,20,30,40,50,60,70],"tickSize":-6,"labels":false,"title":null}},"y":{"field":"hi","type":"quantitative","scale":{"domain":[0,0.3],"nice":false,"zero":false},"axis":{"orient":"right","values":[0.05,0.1,0.15,0.2,0.25],"tickSize":-8,"labels":false,"title":null}},"color":{"field":"h","type":"nominal","scale":{"domain":["N","S"],"range":["#ff0000","#0000ff"]},"legend":null}}},
{"data":{"name":"pts"},"transform":[{"filter":"datum.p=='f8'"}],"mark":{"type":"circle","size":200,"opacity":1},"encoding":{"x":{"field":"lat","type":"quantitative","scale":{"domain":[0,80],"nice":false,"zero":false},"axis":null},"y":{"field":"v","type":"quantitative","scale":{"domain":[0,0.3],"nice":false,"zero":false},"axis":null},"color":{"field":"h","type":"nominal","scale":{"domain":["N","S"],"range":["#ff0000","#0000ff"]},"legend":null}}},
{"data":{"name":"fit"},"transform":[{"filter":"datum.p=='f8'"}],"mark":{"type":"line","color":"white","strokeWidth":6.5,"interpolate":"monotone"},"encoding":{"x":{"field":"lat","type":"quantitative","scale":{"domain":[0,80],"nice":false,"zero":false},"axis":null},"y":{"field":"v","type":"quantitative","scale":{"domain":[0,0.3],"nice":false,"zero":false},"axis":null}}},
{"data":{"name":"fit"},"transform":[{"filter":"datum.p=='f8'"}],"mark":{"type":"line","color":"black","strokeWidth":2.5,"interpolate":"monotone"},"encoding":{"x":{"field":"lat","type":"quantitative","scale":{"domain":[0,80],"nice":false,"zero":false},"axis":null},"y":{"field":"v","type":"quantitative","scale":{"domain":[0,0.3],"nice":false,"zero":false},"axis":null}}},
{"data":{"values":[{}]},"mark":{"type":"text","text":"08 hours","font":"Liberation Sans","fontWeight":"bold","fontSize":27,"align":"center","baseline":"alphabetic","color":"#6b6b6b"},"encoding":{"x":{"datum":90.8,"type":"quantitative","scale":{"domain":[0,80],"nice":false,"zero":false},"axis":null},"y":{"datum":0.3105,"type":"quantitative","scale":{"domain":[0,0.3],"nice":false,"zero":false},"axis":null}}}
]},
{"width":369,"height":134,"resolve":{"axis":{"x":"independent","y":"independent"}},"layer":[
{"data":{"name":"pts"},"transform":[{"filter":"datum.p=='h8'"}],"mark":{"type":"rule","strokeWidth":2},"encoding":{"x":{"field":"lat","type":"quantitative","scale":{"domain":[0,80],"nice":false,"zero":false},"axis":{"orient":"bottom","values":[0,20,40,60,80],"tickSize":18,"labelPadding":9,"labelFlush":false,"format":"d","labelExpr":"datum.value==0?'Equ.':datum.label","title":"Latitude","titlePadding":5}},"y":{"field":"lo","type":"quantitative","scale":{"domain":[2,10],"nice":false,"zero":false},"axis":{"orient":"right","values":[2,4,6,8,10],"tickSize":17,"labelPadding":8,"format":"d","title":"KM","titlePadding":0}},"y2":{"field":"hi"},"color":{"field":"h","type":"nominal","scale":{"domain":["N","S"],"range":["#ff0000","#0000ff"]},"legend":null}}},
{"data":{"name":"pts"},"transform":[{"filter":"datum.p=='h8'"}],"mark":{"type":"tick","orient":"horizontal","size":18,"thickness":2,"opacity":1},"encoding":{"x":{"field":"lat","type":"quantitative","scale":{"domain":[0,80],"nice":false,"zero":false},"axis":{"orient":"bottom","values":[10,30,50,70],"tickSize":10,"labels":false,"domain":false,"title":null}},"y":{"field":"lo","type":"quantitative","scale":{"domain":[2,10],"nice":false,"zero":false},"axis":{"orient":"right","values":[3,5,7,9],"tickSize":10,"labels":false,"domain":false,"title":null}},"color":{"field":"h","type":"nominal","scale":{"domain":["N","S"],"range":["#ff0000","#0000ff"]},"legend":null}}},
{"data":{"name":"pts"},"transform":[{"filter":"datum.p=='h8'"}],"mark":{"type":"tick","orient":"horizontal","size":18,"thickness":2,"opacity":1},"encoding":{"x":{"field":"lat","type":"quantitative","scale":{"domain":[0,80],"nice":false,"zero":false},"axis":{"orient":"top","values":[10,20,30,40,50,60,70],"tickSize":-6,"labels":false,"title":null}},"y":{"field":"hi","type":"quantitative","scale":{"domain":[2,10],"nice":false,"zero":false},"axis":{"orient":"left","values":[3,4,5,6,7,8,9],"tickSize":-11,"labels":false,"title":null}},"color":{"field":"h","type":"nominal","scale":{"domain":["N","S"],"range":["#ff0000","#0000ff"]},"legend":null}}},
{"data":{"name":"pts"},"transform":[{"filter":"datum.p=='h8'"}],"mark":{"type":"circle","size":200,"opacity":1},"encoding":{"x":{"field":"lat","type":"quantitative","scale":{"domain":[0,80],"nice":false,"zero":false},"axis":null},"y":{"field":"v","type":"quantitative","scale":{"domain":[2,10],"nice":false,"zero":false},"axis":null},"color":{"field":"h","type":"nominal","scale":{"domain":["N","S"],"range":["#ff0000","#0000ff"]},"legend":null}}},
{"data":{"name":"fit"},"transform":[{"filter":"datum.p=='h8'"}],"mark":{"type":"line","color":"white","strokeWidth":6.5,"interpolate":"monotone"},"encoding":{"x":{"field":"lat","type":"quantitative","scale":{"domain":[0,80],"nice":false,"zero":false},"axis":null},"y":{"field":"v","type":"quantitative","scale":{"domain":[2,10],"nice":false,"zero":false},"axis":null}}},
{"data":{"name":"fit"},"transform":[{"filter":"datum.p=='h8'"}],"mark":{"type":"line","color":"black","strokeWidth":2.5,"interpolate":"monotone"},"encoding":{"x":{"field":"lat","type":"quantitative","scale":{"domain":[0,80],"nice":false,"zero":false},"axis":null},"y":{"field":"v","type":"quantitative","scale":{"domain":[2,10],"nice":false,"zero":false},"axis":null}}}
]}
],
"config":{
"view":{"stroke":null},
"axis":{"grid":false,"domainColor":"black","domainWidth":2.5,"domainCap":"square","tickColor":"black","tickWidth":2.5,"labelFont":"Liberation Sans","labelFontWeight":"bold","labelFontSize":22,"labelColor":"black","titleFont":"Liberation Sans","titleFontWeight":"bold","titleFontSize":25,"titleColor":"black"},
"axisX":{"labelFlush":false},
"axisY":{"labelFontSize":23}
}
}
